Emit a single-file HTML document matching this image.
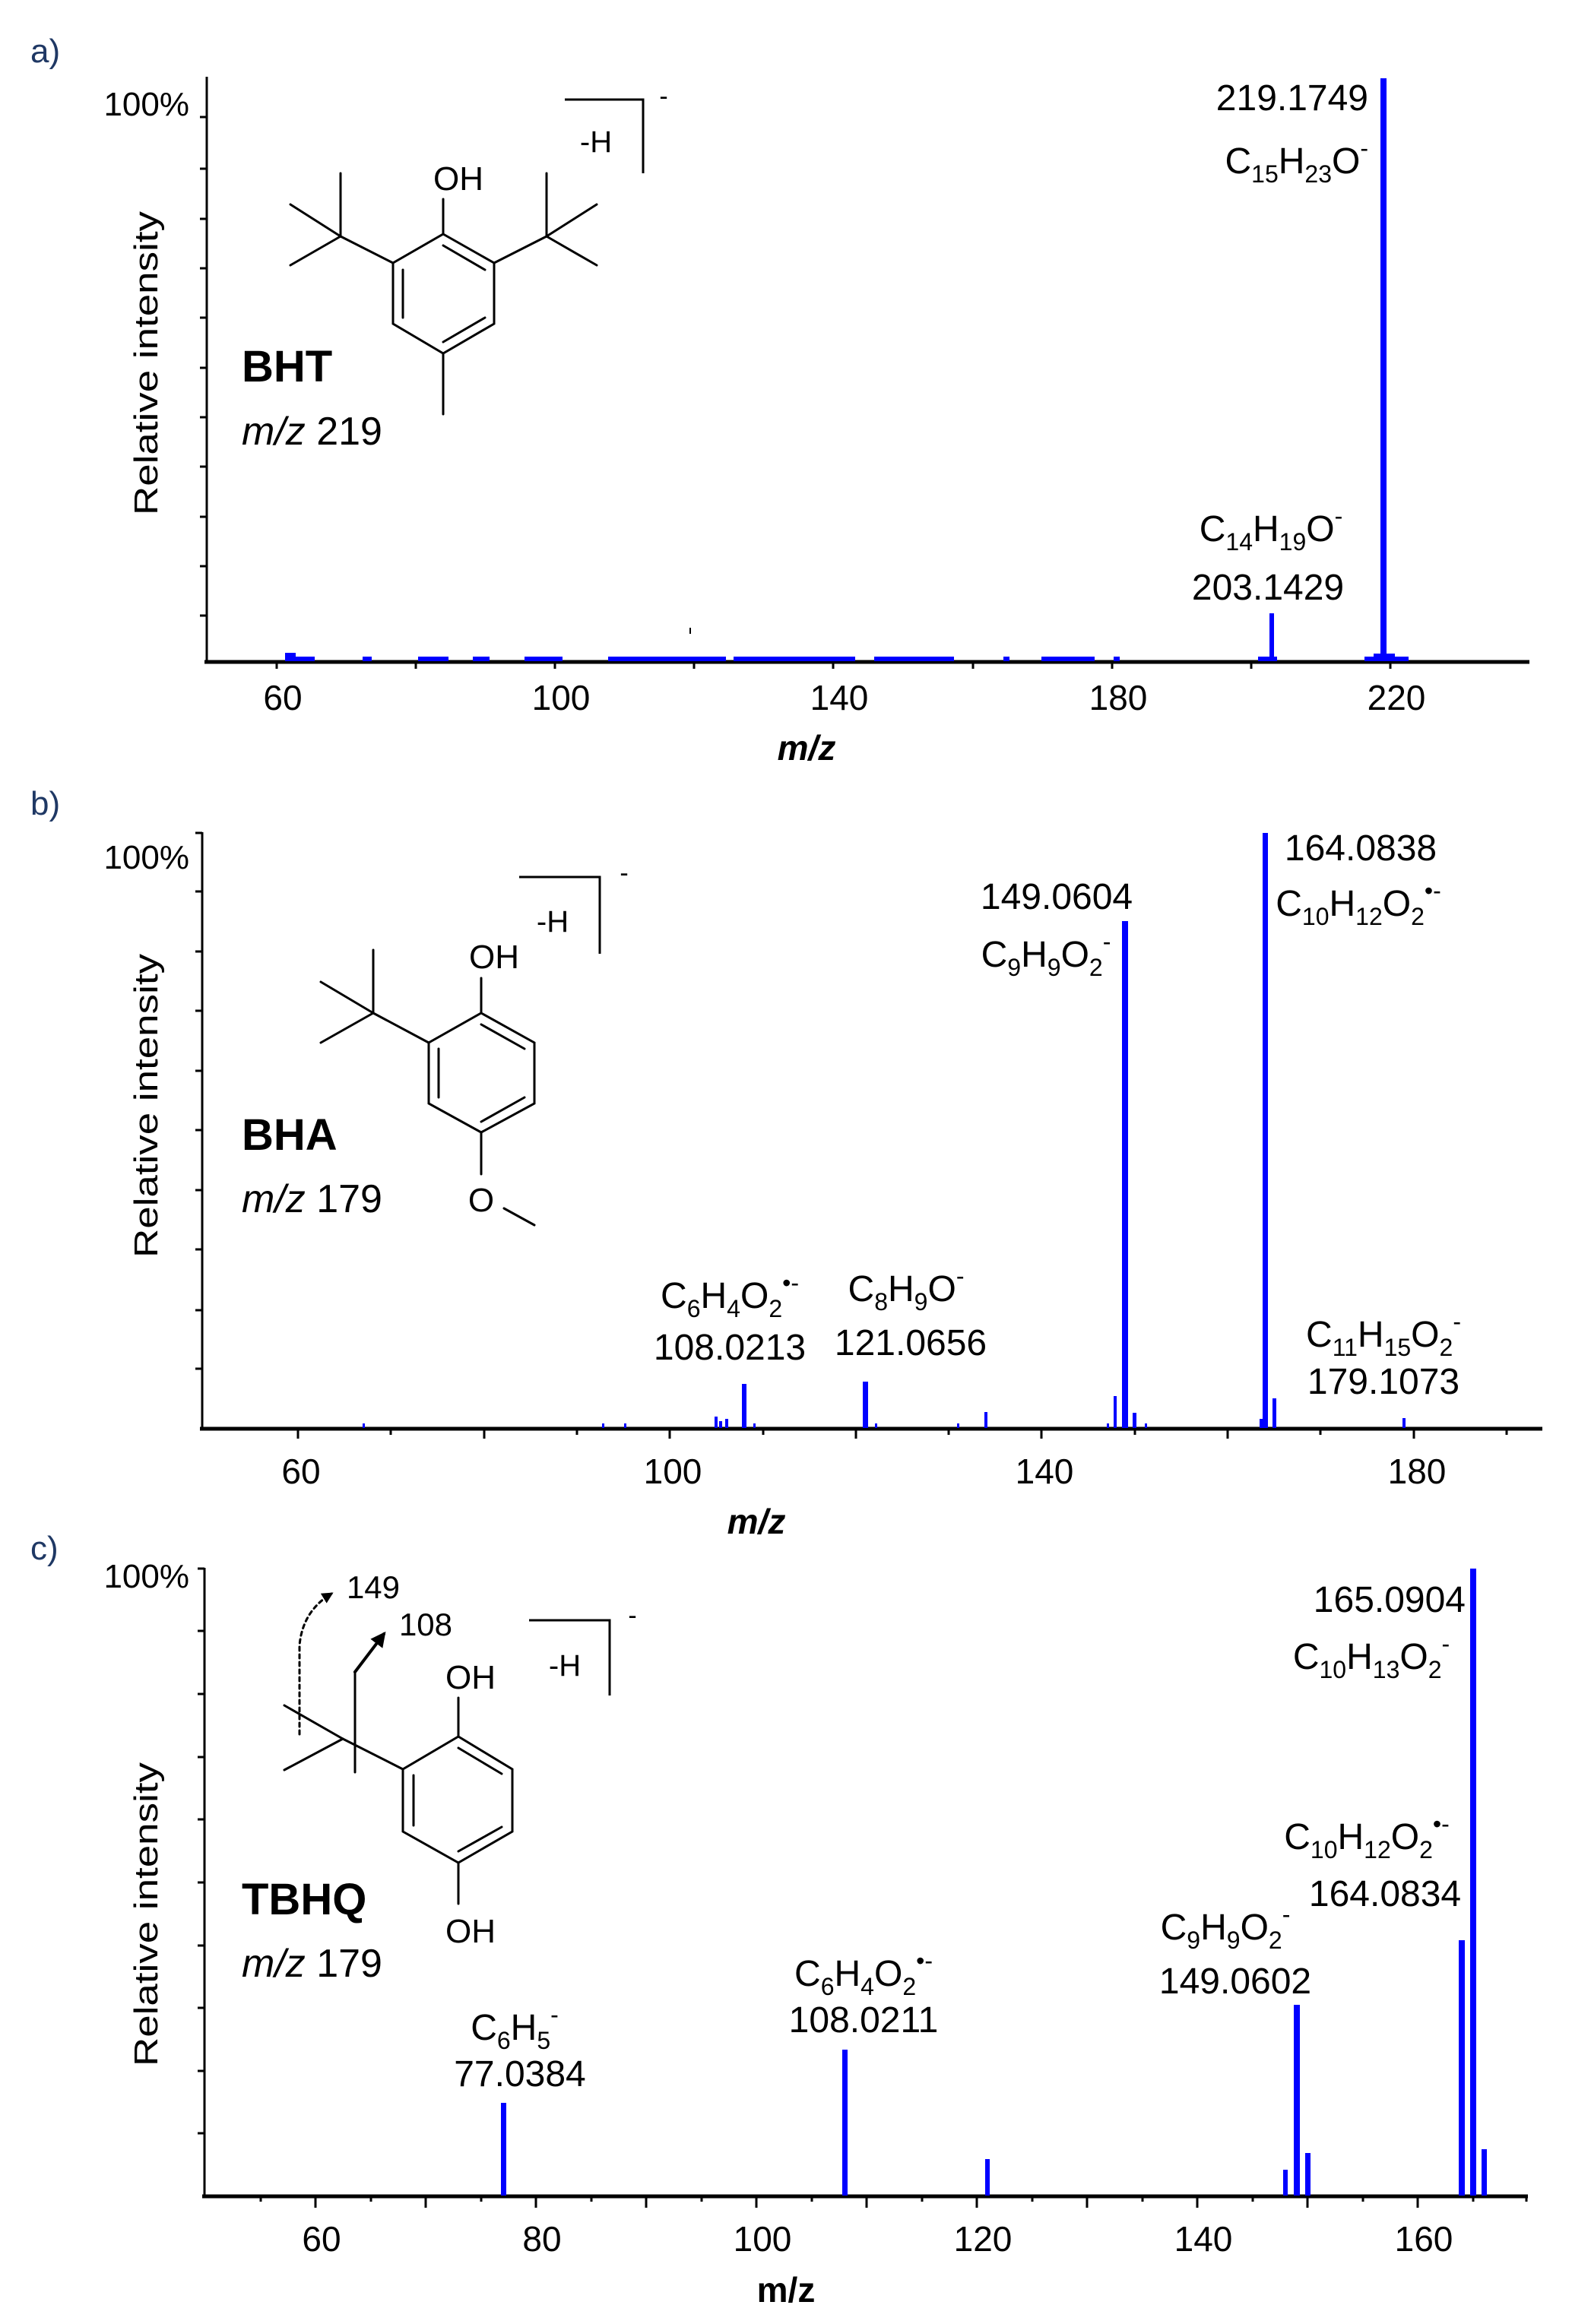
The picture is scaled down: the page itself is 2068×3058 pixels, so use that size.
<!DOCTYPE html>
<html><head><meta charset="utf-8"><style>
html,body{margin:0;padding:0;background:#fff}
svg{display:block}
text{font-family:"Liberation Sans",sans-serif;fill:#000}
</style></head><body>
<svg width="2068" height="3058" viewBox="0 0 2068 3058" xmlns="http://www.w3.org/2000/svg">
<defs>
<marker id="ah" viewBox="0 0 10 10" refX="8" refY="5" markerWidth="5" markerHeight="5" orient="auto"><path d="M0,0 L10,5 L0,10 z" fill="#000"/></marker>
</defs>
<!-- ================= PANEL A ================= -->
<text x="40" y="82" font-size="44" style="fill:#1f3864">a)</text>
<g stroke="#000" stroke-width="3">
<line x1="272" y1="101" x2="272" y2="872"/>
<line x1="269" y1="871" x2="2012" y2="871" stroke-width="5"/>
<line x1="263" y1="154" x2="272" y2="154"/><line x1="263" y1="222" x2="272" y2="222"/><line x1="263" y1="288" x2="272" y2="288"/><line x1="263" y1="353" x2="272" y2="353"/><line x1="263" y1="418" x2="272" y2="418"/><line x1="263" y1="484" x2="272" y2="484"/><line x1="263" y1="549" x2="272" y2="549"/><line x1="263" y1="614" x2="272" y2="614"/><line x1="263" y1="680" x2="272" y2="680"/><line x1="263" y1="745" x2="272" y2="745"/><line x1="263" y1="810" x2="272" y2="810"/>
<line x1="364" y1="871" x2="364" y2="880"/><line x1="547" y1="871" x2="547" y2="880"/><line x1="730" y1="871" x2="730" y2="880"/><line x1="913" y1="871" x2="913" y2="880"/><line x1="1096" y1="871" x2="1096" y2="880"/><line x1="1280" y1="871" x2="1280" y2="880"/><line x1="1463" y1="871" x2="1463" y2="880"/><line x1="1646" y1="871" x2="1646" y2="880"/><line x1="1829" y1="871" x2="1829" y2="880"/>
</g>
<g font-size="46" text-anchor="middle">
<text x="372" y="934">60</text><text x="738" y="934">100</text><text x="1104" y="934">140</text><text x="1471" y="934">180</text><text x="1837" y="934">220</text>
</g>
<text x="1061" y="1000" font-size="46" font-weight="bold" font-style="italic" text-anchor="middle">m/z</text>
<text x="249" y="152" font-size="44" text-anchor="end">100%</text>
<text transform="translate(207,478) rotate(-90)" font-size="44" text-anchor="middle" textLength="400" lengthAdjust="spacingAndGlyphs">Relative intensity</text>
<g fill="#0000ff">
<rect x="1816" y="103" width="8" height="767"/>
<rect x="1670" y="807" width="6" height="63"/>
<rect x="1807" y="860" width="28" height="10"/><rect x="1795" y="864" width="58" height="6"/>
<rect x="1655" y="864" width="25" height="6"/>
<rect x="375" y="859" width="14" height="11"/><rect x="389" y="864" width="25" height="6"/>
<rect x="477" y="864" width="12" height="6"/><rect x="550" y="864" width="40" height="6"/><rect x="622" y="864" width="22" height="6"/>
<rect x="690" y="864" width="50" height="6"/><rect x="800" y="864" width="155" height="6"/><rect x="965" y="864" width="160" height="6"/>
<rect x="1150" y="864" width="105" height="6"/><rect x="1320" y="864" width="8" height="6"/><rect x="1370" y="864" width="70" height="6"/><rect x="1465" y="864" width="8" height="6"/>
</g>
<line x1="908" y1="826" x2="908" y2="834" stroke="#000" stroke-width="2"/>
<text x="1800" y="145" font-size="48" text-anchor="end">219.1749</text>
<text x="1800" y="228" font-size="48" text-anchor="end">C<tspan font-size="32" dy="12">15</tspan><tspan dy="-12">H</tspan><tspan font-size="32" dy="12">23</tspan><tspan dy="-12">O</tspan><tspan font-size="32" dy="-22">-</tspan></text>
<text x="1672" y="712" font-size="48" text-anchor="middle">C<tspan font-size="32" dy="12">14</tspan><tspan dy="-12">H</tspan><tspan font-size="32" dy="12">19</tspan><tspan dy="-12">O</tspan><tspan font-size="32" dy="-22">-</tspan></text>
<text x="1668" y="789" font-size="48" text-anchor="middle">203.1429</text>
<g stroke="#000" stroke-width="3" fill="none" stroke-linecap="round">
<polygon points="583,308 650,346 650,426 583,465 517,426 517,346"/>
<line x1="530" y1="355" x2="530" y2="418"/>
<line x1="638" y1="418" x2="583" y2="450"/>
<line x1="583" y1="323" x2="638" y2="355"/>
<line x1="583" y1="308" x2="583" y2="262"/>
<line x1="583" y1="465" x2="583" y2="545"/>
<line x1="517" y1="346" x2="448" y2="311"/>
<line x1="448" y1="311" x2="448" y2="228"/><line x1="448" y1="311" x2="382" y2="269"/><line x1="448" y1="311" x2="382" y2="349"/>
<line x1="650" y1="346" x2="719" y2="311"/>
<line x1="719" y1="311" x2="719" y2="228"/><line x1="719" y1="311" x2="785" y2="269"/><line x1="719" y1="311" x2="785" y2="349"/>
<polyline points="743,131 846,131 846,228" stroke-linecap="butt"/>
</g>
<text x="603" y="250" font-size="44" text-anchor="middle">OH</text>
<text x="784" y="200" font-size="40" text-anchor="middle">-H</text>
<text x="873" y="138" font-size="34" text-anchor="middle">-</text>
<text x="318" y="502" font-size="58" font-weight="bold">BHT</text>
<text x="318" y="585" font-size="52"><tspan font-style="italic">m/z</tspan> 219</text>

<!-- ================= PANEL B ================= -->
<text x="40" y="1072" font-size="44" style="fill:#1f3864">b)</text>
<g stroke="#000" stroke-width="3">
<line x1="266" y1="1095" x2="266" y2="1881"/>
<line x1="263" y1="1880" x2="2029" y2="1880" stroke-width="5"/>
<line x1="257" y1="1096" x2="266" y2="1096"/><line x1="257" y1="1173" x2="266" y2="1173"/><line x1="257" y1="1252" x2="266" y2="1252"/><line x1="257" y1="1330" x2="266" y2="1330"/><line x1="257" y1="1409" x2="266" y2="1409"/><line x1="257" y1="1487" x2="266" y2="1487"/><line x1="257" y1="1566" x2="266" y2="1566"/><line x1="257" y1="1644" x2="266" y2="1644"/><line x1="257" y1="1724" x2="266" y2="1724"/><line x1="257" y1="1801" x2="266" y2="1801"/>
<line x1="392" y1="1880" x2="392" y2="1893"/><line x1="514" y1="1880" x2="514" y2="1888"/><line x1="637" y1="1880" x2="637" y2="1893"/><line x1="759" y1="1880" x2="759" y2="1888"/><line x1="881" y1="1880" x2="881" y2="1893"/><line x1="1004" y1="1880" x2="1004" y2="1888"/><line x1="1126" y1="1880" x2="1126" y2="1893"/><line x1="1248" y1="1880" x2="1248" y2="1888"/><line x1="1370" y1="1880" x2="1370" y2="1893"/><line x1="1493" y1="1880" x2="1493" y2="1888"/><line x1="1615" y1="1880" x2="1615" y2="1893"/><line x1="1737" y1="1880" x2="1737" y2="1888"/><line x1="1860" y1="1880" x2="1860" y2="1893"/><line x1="1982" y1="1880" x2="1982" y2="1888"/>
</g>
<g font-size="46" text-anchor="middle">
<text x="396" y="1952">60</text><text x="885" y="1952">100</text><text x="1374" y="1952">140</text><text x="1864" y="1952">180</text>
</g>
<text x="995" y="2018" font-size="46" font-weight="bold" font-style="italic" text-anchor="middle">m/z</text>
<text x="249" y="1143" font-size="44" text-anchor="end">100%</text>
<text transform="translate(207,1455) rotate(-90)" font-size="44" text-anchor="middle" textLength="400" lengthAdjust="spacingAndGlyphs">Relative intensity</text>
<g fill="#0000ff">
<rect x="1476" y="1212" width="8" height="667"/>
<rect x="1661" y="1096" width="7" height="783"/>
<rect x="1465" y="1837" width="4" height="42"/><rect x="1490" y="1859" width="5" height="20"/>
<rect x="1674" y="1840" width="5" height="39"/><rect x="1657" y="1867" width="4" height="12"/>
<rect x="976" y="1821" width="6" height="58"/><rect x="954" y="1867" width="4" height="12"/><rect x="940" y="1864" width="4" height="15"/><rect x="946" y="1870" width="4" height="9"/>
<rect x="1135" y="1818" width="7" height="61"/>
<rect x="1295" y="1858" width="4" height="21"/>
<rect x="1845" y="1866" width="4" height="13"/>
<rect x="477" y="1873" width="3" height="6"/><rect x="792" y="1873" width="3" height="6"/><rect x="821" y="1873" width="3" height="6"/><rect x="991" y="1873" width="3" height="6"/><rect x="1151" y="1873" width="3" height="6"/><rect x="1259" y="1873" width="3" height="6"/><rect x="1506" y="1873" width="3" height="6"/><rect x="1456" y="1873" width="3" height="6"/>
</g>
<text x="1390" y="1196" font-size="48" text-anchor="middle">149.0604</text>
<text x="1376" y="1272" font-size="48" text-anchor="middle">C<tspan font-size="32" dy="12">9</tspan><tspan dy="-12">H</tspan><tspan font-size="32" dy="12">9</tspan><tspan dy="-12">O</tspan><tspan font-size="32" dy="12">2</tspan><tspan font-size="32" dy="-34">-</tspan></text>
<text x="1790" y="1132" font-size="48" text-anchor="middle">164.0838</text>
<text x="1787" y="1205" font-size="48" text-anchor="middle">C<tspan font-size="32" dy="12">10</tspan><tspan dy="-12">H</tspan><tspan font-size="32" dy="12">12</tspan><tspan dy="-12">O</tspan><tspan font-size="32" dy="12">2</tspan><tspan font-size="32" dy="-34">•-</tspan></text>
<text x="960" y="1721" font-size="48" text-anchor="middle">C<tspan font-size="32" dy="12">6</tspan><tspan dy="-12">H</tspan><tspan font-size="32" dy="12">4</tspan><tspan dy="-12">O</tspan><tspan font-size="32" dy="12">2</tspan><tspan font-size="32" dy="-34">•-</tspan></text>
<text x="960" y="1789" font-size="48" text-anchor="middle">108.0213</text>
<text x="1192" y="1712" font-size="48" text-anchor="middle">C<tspan font-size="32" dy="12">8</tspan><tspan dy="-12">H</tspan><tspan font-size="32" dy="12">9</tspan><tspan dy="-12">O</tspan><tspan font-size="32" dy="-22">-</tspan></text>
<text x="1198" y="1783" font-size="48" text-anchor="middle">121.0656</text>
<text x="1820" y="1772" font-size="48" text-anchor="middle">C<tspan font-size="32" dy="12">11</tspan><tspan dy="-12">H</tspan><tspan font-size="32" dy="12">15</tspan><tspan dy="-12">O</tspan><tspan font-size="32" dy="12">2</tspan><tspan font-size="32" dy="-34">-</tspan></text>
<text x="1820" y="1834" font-size="48" text-anchor="middle">179.1073</text>
<g stroke="#000" stroke-width="3" fill="none" stroke-linecap="round">
<polygon points="633,1333 703,1372 703,1452 633,1490 564,1452 564,1372"/>
<line x1="577" y1="1380" x2="577" y2="1444"/>
<line x1="633" y1="1348" x2="690" y2="1380"/>
<line x1="690" y1="1444" x2="633" y2="1476"/>
<line x1="633" y1="1333" x2="633" y2="1287"/>
<line x1="633" y1="1490" x2="633" y2="1545"/>
<line x1="663" y1="1590" x2="703" y2="1612"/>
<line x1="564" y1="1372" x2="491" y2="1333"/>
<line x1="491" y1="1333" x2="491" y2="1250"/><line x1="491" y1="1333" x2="422" y2="1292"/><line x1="491" y1="1333" x2="422" y2="1372"/>
<polyline points="683,1154 789,1154 789,1255" stroke-linecap="butt"/>
</g>
<text x="650" y="1274" font-size="44" text-anchor="middle">OH</text>
<text x="633" y="1594" font-size="44" text-anchor="middle">O</text>
<text x="727" y="1226" font-size="40" text-anchor="middle">-H</text>
<text x="821" y="1160" font-size="34" text-anchor="middle">-</text>
<text x="318" y="1513" font-size="58" font-weight="bold">BHA</text>
<text x="318" y="1595" font-size="52"><tspan font-style="italic">m/z</tspan> 179</text>

<!-- ================= PANEL C ================= -->
<text x="40" y="2052" font-size="44" style="fill:#1f3864">c)</text>
<g stroke="#000" stroke-width="3">
<line x1="269" y1="2063" x2="269" y2="2891"/>
<line x1="266" y1="2890" x2="2010" y2="2890" stroke-width="5"/>
<line x1="260" y1="2064" x2="269" y2="2064"/><line x1="260" y1="2146" x2="269" y2="2146"/><line x1="260" y1="2229" x2="269" y2="2229"/><line x1="260" y1="2312" x2="269" y2="2312"/><line x1="260" y1="2394" x2="269" y2="2394"/><line x1="260" y1="2477" x2="269" y2="2477"/><line x1="260" y1="2560" x2="269" y2="2560"/><line x1="260" y1="2642" x2="269" y2="2642"/><line x1="260" y1="2725" x2="269" y2="2725"/><line x1="260" y1="2807" x2="269" y2="2807"/>
<line x1="343" y1="2890" x2="343" y2="2897"/><line x1="415" y1="2890" x2="415" y2="2905"/><line x1="488" y1="2890" x2="488" y2="2897"/><line x1="560" y1="2890" x2="560" y2="2905"/><line x1="633" y1="2890" x2="633" y2="2897"/><line x1="705" y1="2890" x2="705" y2="2905"/><line x1="778" y1="2890" x2="778" y2="2897"/><line x1="850" y1="2890" x2="850" y2="2905"/><line x1="923" y1="2890" x2="923" y2="2897"/><line x1="995" y1="2890" x2="995" y2="2905"/><line x1="1068" y1="2890" x2="1068" y2="2897"/><line x1="1140" y1="2890" x2="1140" y2="2905"/><line x1="1213" y1="2890" x2="1213" y2="2897"/><line x1="1285" y1="2890" x2="1285" y2="2905"/><line x1="1358" y1="2890" x2="1358" y2="2897"/><line x1="1430" y1="2890" x2="1430" y2="2905"/><line x1="1503" y1="2890" x2="1503" y2="2897"/><line x1="1575" y1="2890" x2="1575" y2="2905"/><line x1="1648" y1="2890" x2="1648" y2="2897"/><line x1="1720" y1="2890" x2="1720" y2="2905"/><line x1="1793" y1="2890" x2="1793" y2="2897"/><line x1="1865" y1="2890" x2="1865" y2="2905"/><line x1="1938" y1="2890" x2="1938" y2="2897"/><line x1="2008" y1="2890" x2="2008" y2="2897"/>
</g>
<g font-size="46" text-anchor="middle">
<text x="423" y="2962">60</text><text x="713" y="2962">80</text><text x="1003" y="2962">100</text><text x="1293" y="2962">120</text><text x="1583" y="2962">140</text><text x="1873" y="2962">160</text>
</g>
<text x="1034" y="3029" font-size="46" font-weight="bold" text-anchor="middle">m/z</text>
<text x="249" y="2089" font-size="44" text-anchor="end">100%</text>
<text transform="translate(207,2519) rotate(-90)" font-size="44" text-anchor="middle" textLength="400" lengthAdjust="spacingAndGlyphs">Relative intensity</text>
<g fill="#0000ff">
<rect x="659" y="2767" width="7" height="122"/>
<rect x="1108" y="2697" width="7" height="192"/>
<rect x="1296" y="2841" width="6" height="48"/>
<rect x="1688" y="2855" width="6" height="34"/>
<rect x="1702" y="2638" width="8" height="251"/>
<rect x="1717" y="2833" width="7" height="56"/>
<rect x="1919" y="2553" width="8" height="336"/>
<rect x="1934" y="2064" width="8" height="825"/>
<rect x="1949" y="2828" width="7" height="61"/>
</g>
<text x="1928" y="2121" font-size="48" text-anchor="end">165.0904</text>
<text x="1804" y="2196" font-size="48" text-anchor="middle">C<tspan font-size="32" dy="12">10</tspan><tspan dy="-12">H</tspan><tspan font-size="32" dy="12">13</tspan><tspan dy="-12">O</tspan><tspan font-size="32" dy="12">2</tspan><tspan font-size="32" dy="-34">-</tspan></text>
<text x="1798" y="2433" font-size="48" text-anchor="middle">C<tspan font-size="32" dy="12">10</tspan><tspan dy="-12">H</tspan><tspan font-size="32" dy="12">12</tspan><tspan dy="-12">O</tspan><tspan font-size="32" dy="12">2</tspan><tspan font-size="32" dy="-34">•-</tspan></text>
<text x="1822" y="2508" font-size="48" text-anchor="middle">164.0834</text>
<text x="1612" y="2552" font-size="48" text-anchor="middle">C<tspan font-size="32" dy="12">9</tspan><tspan dy="-12">H</tspan><tspan font-size="32" dy="12">9</tspan><tspan dy="-12">O</tspan><tspan font-size="32" dy="12">2</tspan><tspan font-size="32" dy="-34">-</tspan></text>
<text x="1625" y="2623" font-size="48" text-anchor="middle">149.0602</text>
<text x="1136" y="2613" font-size="48" text-anchor="middle">C<tspan font-size="32" dy="12">6</tspan><tspan dy="-12">H</tspan><tspan font-size="32" dy="12">4</tspan><tspan dy="-12">O</tspan><tspan font-size="32" dy="12">2</tspan><tspan font-size="32" dy="-34">•-</tspan></text>
<text x="1136" y="2674" font-size="48" text-anchor="middle">108.0211</text>
<text x="677" y="2684" font-size="48" text-anchor="middle">C<tspan font-size="32" dy="12">6</tspan><tspan dy="-12">H</tspan><tspan font-size="32" dy="12">5</tspan><tspan font-size="32" dy="-34">-</tspan></text>
<text x="684" y="2745" font-size="48" text-anchor="middle">77.0384</text>
<g stroke="#000" stroke-width="3" fill="none" stroke-linecap="round">
<polygon points="603,2285 674,2328 674,2410 603,2451 530,2410 530,2328"/>
<line x1="544" y1="2336" x2="544" y2="2402"/>
<line x1="603" y1="2300" x2="660" y2="2334"/>
<line x1="660" y1="2404" x2="603" y2="2436"/>
<line x1="603" y1="2285" x2="603" y2="2234"/>
<line x1="603" y1="2451" x2="603" y2="2505"/>
<line x1="530" y1="2328" x2="451" y2="2288"/>
<line x1="451" y1="2288" x2="374" y2="2244"/><line x1="451" y1="2288" x2="374" y2="2329"/>
<line x1="467" y1="2332" x2="467" y2="2200"/>
<path d="M467,2200 L505,2150" stroke-width="4" marker-end="url(#ah)"/>
<path d="M394,2282 L394,2165 Q398,2120 436,2097" stroke-dasharray="5,5" marker-end="url(#ah)"/>
<polyline points="696,2132 802,2132 802,2231" stroke-linecap="butt"/>
</g>
<text x="619" y="2222" font-size="44" text-anchor="middle">OH</text>
<text x="619" y="2556" font-size="44" text-anchor="middle">OH</text>
<text x="491" y="2103" font-size="42" text-anchor="middle">149</text>
<text x="560" y="2152" font-size="42" text-anchor="middle">108</text>
<text x="743" y="2205" font-size="40" text-anchor="middle">-H</text>
<text x="832" y="2137" font-size="34" text-anchor="middle">-</text>
<text x="318" y="2519" font-size="58" font-weight="bold">TBHQ</text>
<text x="318" y="2601" font-size="52"><tspan font-style="italic">m/z</tspan> 179</text>
</svg>
</body></html>
